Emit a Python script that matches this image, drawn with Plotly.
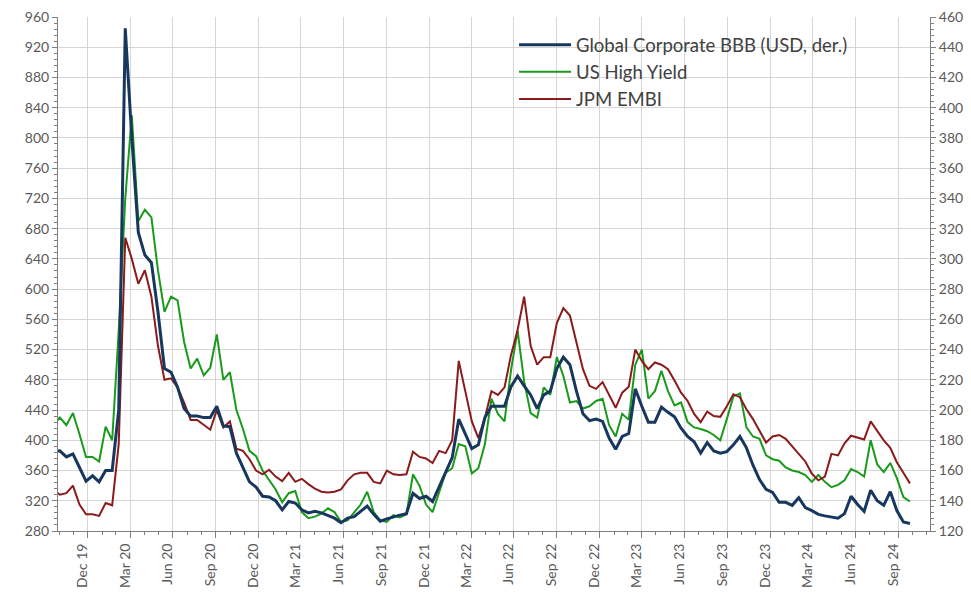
import pandas as pd
import plotly.graph_objects as go

# Bi-weekly observations, first at 2019-10-18
start_date = "2019-10-18"

# Global Corporate BBB (USD, der.) - right axis (bp)
bbb = [172.5, 173, 169, 171, 162, 153, 156.5, 152.5, 160, 160, 200, 452.5, 380, 317.5, 302.5, 297.5,
       265, 227.5, 225, 215, 201, 196, 196, 195,
       195, 202.5, 189.5, 189, 171.5, 162.5, 152.5, 149, 143, 142.5, 140, 134, 139.5, 138.5, 134, 132,
       133, 132, 130, 128.5, 125.5, 128.5,
       129.5, 133, 136.5, 131, 126.5, 128, 129.5, 130.5, 131.5, 145, 141.5, 143, 139.5, 149, 158.5,
       168.5, 194, 184, 174.5, 177, 195, 202.5,
       202.5, 202.5, 215.5, 222.5, 216, 210, 201, 210, 212.5, 227.5, 235, 230, 212.5, 197.5, 193, 194,
       192.5, 181.5, 174, 182.5, 184.5, 214, 202.5,
       192, 192, 202, 198.5, 195.5, 188, 182.5, 179, 171.5, 178.5, 173, 171.5, 172.5, 177, 182.5, 175,
       163.5, 154, 147.5, 145.5, 139, 139, 137, 142,
       135.5, 133.5, 131, 130, 129.5, 128.5, 131.5, 143, 137.5, 133, 147, 140, 137, 146, 133.5, 126, 125]

# US High Yield - left axis (bp)
us_hy = [420, 430, 420, 436, 408, 378, 378, 372, 418, 400, 545, 720, 830, 690, 705, 695, 625, 570,
         590, 585, 530, 495, 508, 486,
         496, 540, 480, 490, 440, 415, 386, 379, 360, 347, 335, 318, 330, 333, 305, 297, 299, 303, 310,
         305, 292, 294,
         305, 315, 332, 305, 294, 292, 301, 298, 302, 355, 340, 315, 305, 332, 357, 363, 395, 392, 356,
         363, 395, 455,
         435, 425, 493, 545, 478, 436, 430, 470, 460, 510, 485, 450, 452, 442, 445, 452, 455, 420, 405,
         435, 427, 500, 520,
         455, 465, 492, 465, 446, 450, 424, 417, 415, 412, 407, 400, 428, 458, 462, 417, 405, 402, 380,
         375, 373, 364, 360, 358,
         354, 345, 354, 345, 338, 341, 347, 362, 358, 352, 400, 368, 358, 370, 350, 325, 319]

# JPM EMBI - left axis (bp)
embi = [335, 328, 330, 340, 315, 302, 302, 300, 317, 314, 395, 668, 640, 607, 625, 590, 525, 480,
        482, 470, 450, 427, 427, 420,
        414, 440, 417, 425, 389, 386, 375, 360, 355, 361, 352, 346, 357, 345, 349, 342, 336, 332, 331,
        332, 335, 347,
        355, 357, 357, 345, 343, 360, 355, 354, 355, 385, 378, 376, 370, 386, 383, 400, 505, 465, 425,
        403, 430, 465,
        460, 470, 513, 546, 590, 525, 500, 510, 510, 555, 575, 565, 530, 494, 472, 468, 477, 460, 443,
        463, 471, 520, 505,
        494, 503, 500, 494, 479, 463, 452, 435, 424, 438, 432, 431, 445, 461, 457, 441, 428, 413, 397,
        405, 407, 402, 392, 381,
        372, 356, 347, 352, 382, 380, 396, 406, 403, 401, 425, 412, 400, 390, 371, 357, 343]

tick_dates = ["2019-12-31", "2020-03-31", "2020-06-30", "2020-09-30", "2020-12-31", "2021-03-31",
              "2021-06-30", "2021-09-30", "2021-12-31", "2022-03-31", "2022-06-30", "2022-09-30",
              "2022-12-31", "2023-03-31", "2023-06-30", "2023-09-30", "2023-12-31", "2024-03-31",
              "2024-06-30", "2024-09-30"]
tick_labels = ["Dec 19", "Mar 20", "Jun 20", "Sep 20", "Dec 20", "Mar 21", "Jun 21", "Sep 21",
               "Dec 21", "Mar 22", "Jun 22", "Sep 22", "Dec 22", "Mar 23", "Jun 23", "Sep 23",
               "Dec 23", "Mar 24", "Jun 24", "Sep 24"]

dates = pd.date_range(start=start_date, periods=len(bbb), freq="14D")
month_ends = [d.strftime("%Y-%m-%d") for d in pd.date_range("2019-10-31", "2024-11-30", freq="ME")]

FONT = "Lato, 'Open Sans', sans-serif"
GRID = "#d6d6d6"
AXIS = "#808080"
TXT = "#595959"

fig = go.Figure()
fig.add_trace(go.Scatter(x=dates, y=bbb, name="Global Corporate BBB (USD, der.)", yaxis="y2",
                         mode="lines", line=dict(color="#17375e", width=3)))
fig.add_trace(go.Scatter(x=dates, y=us_hy, name="US High Yield", mode="lines",
                         line=dict(color="#1a9a1a", width=2)))
fig.add_trace(go.Scatter(x=dates, y=embi, name="JPM EMBI", mode="lines",
                         line=dict(color="#8b1a1a", width=2)))

fig.update_layout(
    width=971, height=598,
    margin=dict(l=58, r=41, t=17, b=67),
    paper_bgcolor="white", plot_bgcolor="white",
    font=dict(family=FONT, size=14, color=TXT),
    showlegend=True,
    legend=dict(x=0.523, y=0.982, xanchor="left", yanchor="top",
                bgcolor="rgba(255,255,255,0)", font=dict(size=18.5, color="#404040"),
                itemwidth=52, tracegroupgap=0),
    xaxis=dict(type="date", range=["2019-10-28", "2024-12-07"], automargin=False,
               tickmode="array", tickvals=tick_dates, ticktext=tick_labels, tickangle=-90,
               ticklabelshift=-5,
               showgrid=True, gridcolor=GRID, gridwidth=1,
               showline=True, linecolor=AXIS, linewidth=1,
               ticks="outside", ticklen=6, tickcolor=AXIS,
               minor=dict(tickvals=month_ends, ticks="outside", ticklen=3, tickcolor=AXIS, showgrid=False),
               tickfont=dict(size=14, color=TXT), zeroline=False),
    yaxis=dict(range=[280, 960], tickmode="linear", tick0=280, dtick=40, automargin=False,
               showgrid=True, gridcolor=GRID, gridwidth=1,
               showline=True, linecolor=AXIS, linewidth=1,
               ticks="outside", ticklen=5, tickcolor=AXIS,
               minor=dict(dtick=8, ticks="outside", ticklen=3, tickcolor=AXIS, showgrid=False),
               tickfont=dict(size=14, color=TXT), zeroline=False),
    yaxis2=dict(range=[120, 460], tickmode="linear", tick0=120, dtick=20, overlaying="y", side="right",
                automargin=False,
                showgrid=False, showline=True, linecolor=AXIS, linewidth=1,
                ticks="outside", ticklen=5, tickcolor=AXIS,
                minor=dict(dtick=4, ticks="outside", ticklen=3, tickcolor=AXIS),
                tickfont=dict(size=14, color=TXT), zeroline=False),
)

fig.write_html("out.html", config={"displayModeBar": False},
               post_script="document.body.style.margin='0';document.body.style.overflow='hidden';")
